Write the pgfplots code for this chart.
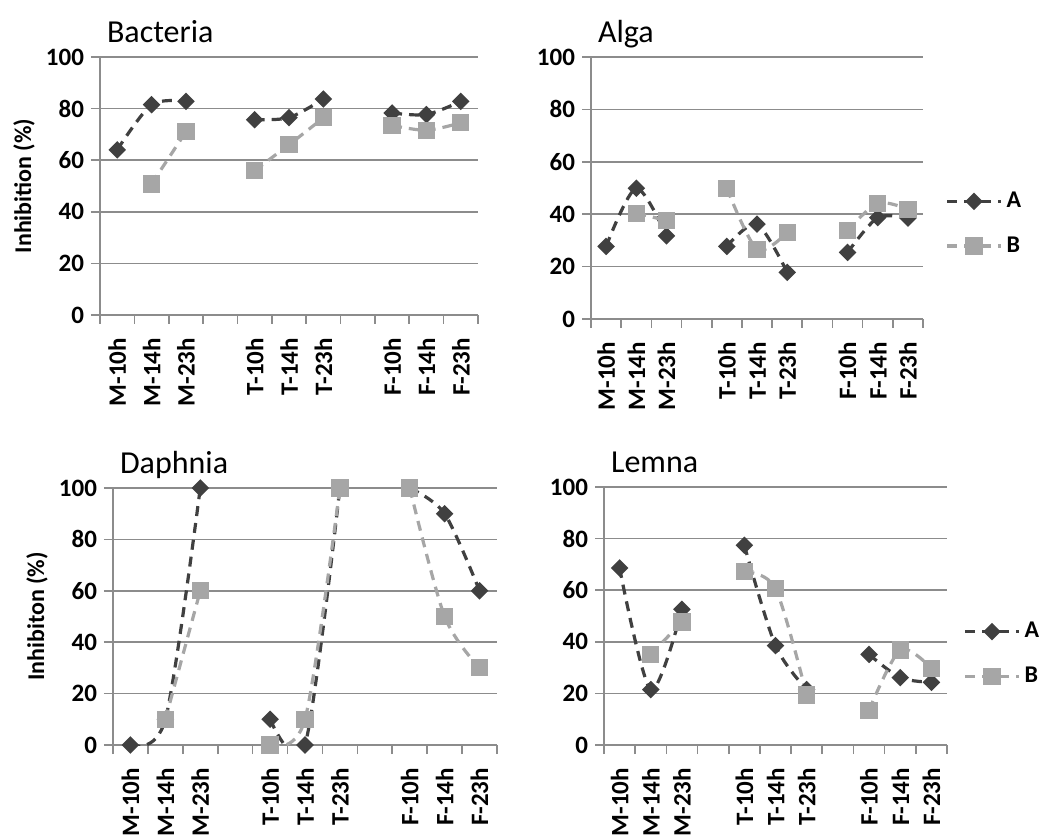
\documentclass[border=0pt]{standalone}
\usepackage{pgfplots}
\pgfplotsset{compat=1.18}
\usepackage{pgfplotstable}
\usepackage{fontspec}
\setmainfont{Carlito}
\definecolor{cA}{RGB}{64,64,64}
\definecolor{cB}{RGB}{166,166,166}
\definecolor{axgray}{RGB}{140,140,140}

\pgfplotstableread{
x A B
0.5 64 nan
1.5 81.5 50.8
2.5 82.8 71
3.5 nan nan
4.5 75.7 56
5.5 76.5 66
6.5 83.7 76.4
7.5 nan nan
8.5 78.3 73.5
9.5 77.7 71.6
10.5 82.8 74.5
}\bacteria
\pgfplotstableread{
x A B
0.5 27.7 nan
1.5 49.9 40.4
2.5 31.7 37.6
3.5 nan nan
4.5 27.7 49.9
5.5 36.2 26.6
6.5 17.8 33.1
7.5 nan nan
8.5 25.4 33.8
9.5 38.7 44.2
10.5 38.5 41.9
}\alga
\pgfplotstableread{
x A B
0.5 0 nan
1.5 10 10
2.5 100 60
3.5 nan nan
4.5 10 0
5.5 0 10
6.5 100 100
7.5 nan nan
8.5 100 100
9.5 90 50
10.5 60 30
}\daphnia
\pgfplotstableread{
x A B
0.5 68.6 nan
1.5 21.5 35.1
2.5 52.6 47.7
3.5 nan nan
4.5 77.4 67.1
5.5 38.5 60.6
6.5 21.5 19.4
7.5 nan nan
8.5 35.1 13.5
9.5 26.1 36.8
10.5 24.3 29.7
}\lemna

\pgfplotsset{
  panel/.style={
    scale only axis, xmin=0, xmax=11, ymin=0, ymax=100,
    axis x line*=bottom, axis y line*=left,
    axis line style={axgray, line width=0.8pt},
    xtick={0,...,11}, xticklabels={},
    extra x ticks={0.5,1.5,2.5,4.5,5.5,6.5,8.5,9.5,10.5},
    extra x tick labels={M-10h,M-14h,M-23h,T-10h,T-14h,T-23h,F-10h,F-14h,F-23h},
    extra x tick style={major tick length=0pt},
    xticklabel style={rotate=90, anchor=east, xshift=-8pt},
    ytick={0,20,...,100}, ymajorgrids,
    grid style={axgray, line width=0.8pt},
    tick style={axgray, line width=0.8pt},
    major tick length=4.5pt, tick align=outside,
    tick label style={font=\fontsize{12.5}{14}\selectfont\bfseries},
    /pgf/number format/assume math mode=true,
    title style={at={(axis description cs:0,1)}, anchor=base west, yshift=1pt,
      font=\fontsize{16}{19}\selectfont},
    ylabel style={at={(axis description cs:0,0.5)}, yshift=38pt, anchor=center,
      font=\fontsize{12}{14}\selectfont\bfseries},
    unbounded coords=jump,
    legend style={draw=none, fill=none, font=\fontsize{12}{14}\selectfont\bfseries,
      row sep=9pt, inner sep=0pt},
    legend cell align=left,
    legend image code/.code={\draw[##1, mark repeat=2, mark phase=2]
      plot coordinates {(0pt,0pt) (13.5pt,0pt) (27pt,0pt)};},
  },
  sA/.style={color=cA, line width=1.6pt, dash pattern=on 5pt off 3.5pt,
    mark=square*, mark size=2.3pt, mark options={rotate=45, solid, fill=cA},
    smooth, tension=0.5},
  sB/.style={color=cB, line width=1.6pt, dash pattern=on 5pt off 3.5pt,
    mark=square*, mark size=3.5pt, mark options={solid, fill=cB},
    smooth, tension=0.5},
}

\begin{document}
\begin{tikzpicture}
\path[use as bounding box] (0,0) rectangle (526pt,419.5pt);

\begin{axis}[panel, at={(50pt,262pt)}, anchor=south west,
  width=189pt, height=129pt, title={Bacteria}, ylabel={Inhibition (\%)}]
\addplot[sA] table[x=x, y=A] {\bacteria};
\addplot[sB] table[x=x, y=B] {\bacteria};
\end{axis}

\begin{axis}[panel, at={(295.5pt,260pt)}, anchor=south west,
  width=166pt, height=131pt, title={Alga},
  legend style={at={(axis description cs:1,0.364)}, anchor=west, xshift=11pt}]
\addplot[sA] table[x=x, y=A] {\alga};
\addplot[sB] table[x=x, y=B] {\alga};
\legend{A,B}
\end{axis}

\begin{axis}[panel, at={(56.5pt,47pt)}, anchor=south west,
  width=192pt, height=128.5pt, title={Daphnia}, ylabel={Inhibiton (\%)}]
\addplot[sA] table[x=x, y=A] {\daphnia};
\addplot[sB] table[x=x, y=B] {\daphnia};
\end{axis}

\begin{axis}[panel, at={(302pt,47pt)}, anchor=south west,
  width=171.5pt, height=129pt, title={Lemna},
  legend style={at={(axis description cs:1,0.353)}, anchor=west, xshift=8pt}]
\addplot[sA] table[x=x, y=A] {\lemna};
\addplot[sB] table[x=x, y=B] {\lemna};
\legend{A,B}
\end{axis}
\end{tikzpicture}
\end{document}
